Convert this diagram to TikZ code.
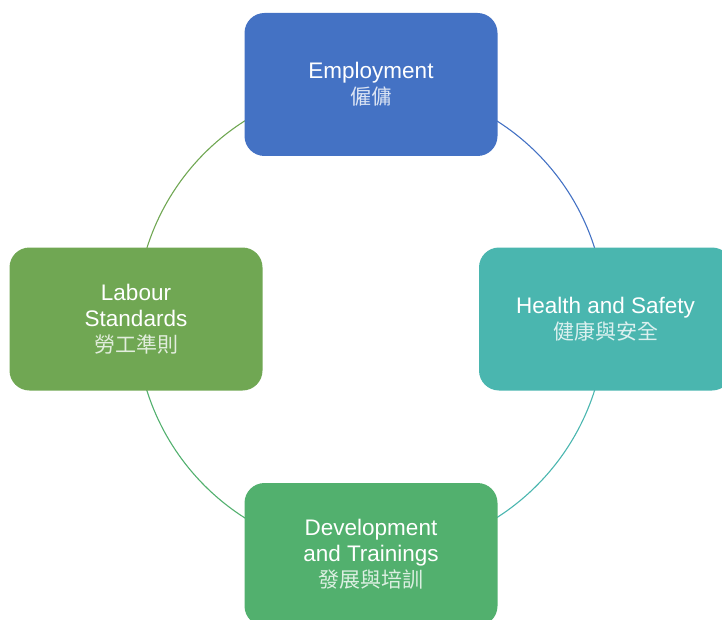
\documentclass[tikz,border=0pt]{standalone}
\usepackage{fontspec}
\setmainfont{Liberation Sans}
\newfontfamily\cjk{Noto Sans CJK TC}
\usetikzlibrary{backgrounds}
\definecolor{empblue}{HTML}{4472C4}
\definecolor{hsteal}{HTML}{4AB6AF}
\definecolor{devgreen}{HTML}{52B06E}
\definecolor{labgreen}{HTML}{70A753}
\newcommand{\zh}[2]{{\cjk\fontsize{21}{26}\selectfont\color{white!80!#1}#2}}
\tikzset{box/.style={rounded corners=20pt,minimum width=253pt,minimum height=143pt,
	text=white,align=center,font=\fontsize{22.5}{26}\selectfont}}

\begin{document}
\begin{tikzpicture}[x=1pt,y=1pt]
		\useasboundingbox (0,0) rectangle (722,-620);
		\begin{scope}[every node/.style={box}]
			\node[fill=empblue] (E) at (371,-84.5) {Employment\\\zh{empblue}{僱傭}};
			\node[fill=hsteal] (H) at (605.5,-319) {Health and Safety\\\zh{hsteal}{健康與安全}};
			\node[fill=devgreen] (D) at (371,-554.5) {Development\\and Trainings\\\zh{devgreen}{發展與培訓}};
			\node[fill=labgreen] (L) at (136,-319) {Labour\\Standards\\\zh{labgreen}{勞工準則}};
		\end{scope}
		\begin{scope}[on background layer,
			every edge/.style={draw,line width=1.1pt}]
			\path (E.center) edge[bend left=45,empblue] (H.center);
			\path (H.center) edge[bend left=45,hsteal] (D.center);
			\path (D.center) edge[bend left=45,devgreen] (L.center);
			\path (L.center) edge[bend left=45,labgreen] (E.center);
		\end{scope}
	\end{tikzpicture}
\end{document}
